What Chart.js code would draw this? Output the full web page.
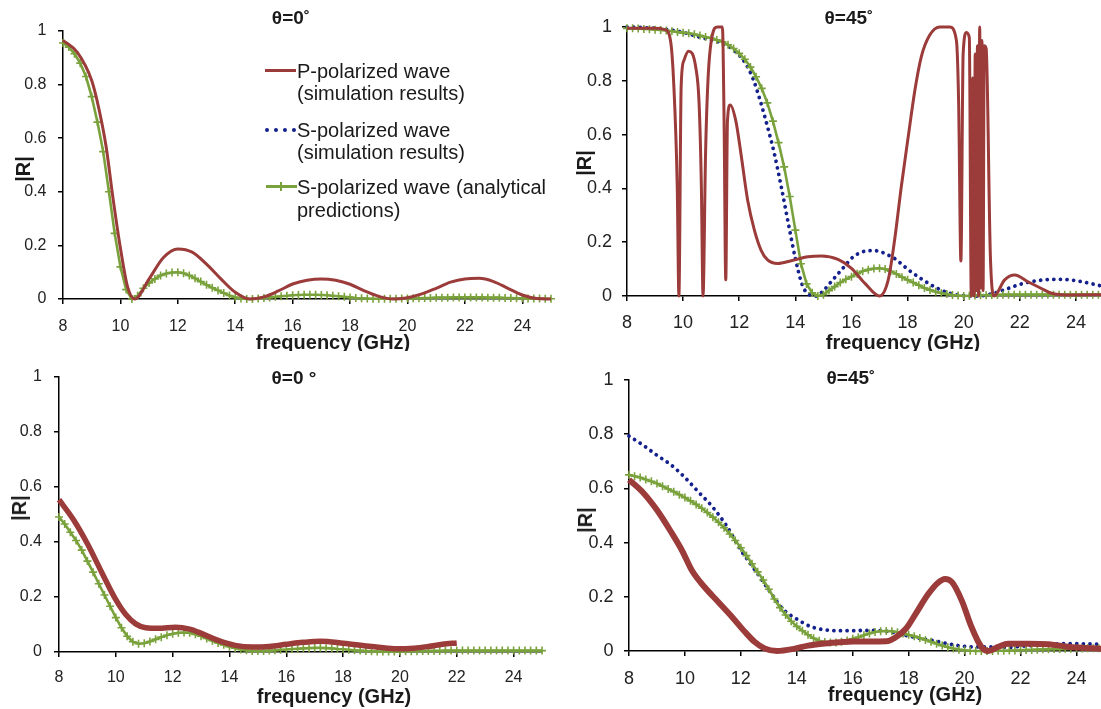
<!DOCTYPE html>
<html lang="en">
<head>
  <meta charset="UTF-8">
  <title>|R| versus frequency</title>
  <script src="https://cdn.jsdelivr.net/npm/chart.js"></script>
  <style>
    html, body {
      margin: 0;
      overflow: hidden;
    }
    body {
      width: 1101px;
      height: 709px;
      position: relative;
      background: #fff;
      font-family: "Liberation Sans", Arial, sans-serif;
      color: #1a1a1a;
    }
    .panel {
      position: absolute;
    }
    .lbl {
      position: absolute;
      white-space: nowrap;
      line-height: 1.2;
      transform: translate(-50%, -50%);
    }
    .title {
      font-weight: bold;
      font-size: 19px;
    }
    .axis-title {
      font-weight: bold;
      font-size: 20px;
    }
    .r-title {
      transform: translate(-50%, -50%) rotate(-90deg);
    }
    #topClip {
      position: absolute;
      left: 0;
      top: 0;
      width: 1101px;
      height: 351px;
      overflow: hidden;
    }
    .legend-text {
      position: absolute;
      left: 297px;
      font-size: 20px;
      line-height: 23px;
      white-space: nowrap;
      transform: translateY(-50%);
    }
    .sample {
      position: absolute;
    }
  </style>
</head>
<body>

<!-- the four plots -->
<div class="panel" style="left:0px; top:0px; width:570px; height:340px;"><canvas id="chartTL"></canvas></div>
<div class="panel" style="left:570px; top:0px; width:540px; height:340px;"><canvas id="chartTR"></canvas></div>
<div class="panel" style="left:0px; top:355px; width:570px; height:354px;"><canvas id="chartBL"></canvas></div>
<div class="panel" style="left:570px; top:355px; width:540px; height:354px;"><canvas id="chartBR"></canvas></div>

<!-- titles -->
<div class="lbl title" style="left:291px; top:18px;">θ=0˚</div>
<div class="lbl title" style="left:849px; top:18px;">θ=45˚</div>
<div class="lbl title" style="left:294px; top:378px;">θ=0 °</div>
<div class="lbl title" style="left:851px; top:378px;">θ=45˚</div>

<!-- axis titles (top row is cut by the lower plots, as in the figure) -->
<div id="topClip">
  <div class="lbl axis-title" style="left:333px; top:342px;">frequency (GHz)</div>
  <div class="lbl axis-title" style="left:903px; top:342px;">frequency (GHz)</div>
</div>
<div class="lbl axis-title" style="left:334px; top:696px;">frequency (GHz)</div>
<div class="lbl axis-title" style="left:905px; top:694px;">frequency (GHz)</div>

<div class="lbl axis-title r-title" style="left:23px; top:169px;">|R|</div>
<div class="lbl axis-title r-title" style="left:584px; top:163px;">|R|</div>
<div class="lbl axis-title r-title" style="left:19px; top:508px;">|R|</div>
<div class="lbl axis-title r-title" style="left:585px; top:520px;">|R|</div>

<!-- legend of the first plot -->
<div class="sample" style="left:265px; top:69px; width:31px; height:3px; background:#9b3b3a;"></div>
<div class="sample" style="left:265px; top:128px; width:31px; height:0; border-top:4px dotted #14208c;"></div>
<div class="sample" style="left:266px; top:185px; width:31px; height:3px; background:#7aa23c;"></div>
<div class="sample" style="left:280px; top:182px; width:2px; height:9px; background:#7aa23c;"></div>
<div class="legend-text" style="top:71px;">P-polarized wave</div>
<div class="legend-text" style="top:93px;">(simulation results)</div>
<div class="legend-text" style="top:130px;">S-polarized wave</div>
<div class="legend-text" style="top:152px;">(simulation results)</div>
<div class="legend-text" style="top:187px;">S-polarized wave (analytical</div>
<div class="legend-text" style="top:210px;">predictions)</div>

<script>
  // axes
  const xTickValues = [8, 10, 12, 14, 16, 18, 20, 22, 24];
  const yTickValues = [0, 0.2, 0.4, 0.6, 0.8, 1];
  const yTickLabels = ['0', '0.2', '0.4', '0.6', '0.8', '1'];

  // frequency samples of the analytical curves (one + marker each)
  const freqAnalytic = [
    8.0, 8.2, 8.4, 8.6, 8.8, 9.0, 9.2, 9.4, 9.6, 9.8,
    10.0, 10.2, 10.4, 10.6, 10.8, 11.0, 11.2, 11.4, 11.6, 11.8,
    12.0, 12.2, 12.4, 12.6, 12.8, 13.0, 13.2, 13.4, 13.6, 13.8,
    14.0, 14.2, 14.4, 14.6, 14.8, 15.0, 15.2, 15.4, 15.6, 15.8,
    16.0, 16.2, 16.4, 16.6, 16.8, 17.0, 17.2, 17.4, 17.6, 17.8,
    18.0, 18.2, 18.4, 18.6, 18.8, 19.0, 19.2, 19.4, 19.6, 19.8,
    20.0, 20.2, 20.4, 20.6, 20.8, 21.0, 21.2, 21.4, 21.6, 21.8,
    22.0, 22.2, 22.4, 22.6, 22.8, 23.0, 23.2, 23.4, 23.6, 23.8,
    24.0, 24.2, 24.4, 24.6, 24.8, 25.0
  ];

  // top left : theta = 0
  const tlRedFreq = [8, 8.5, 9, 9.25, 9.5, 9.75, 10, 10.25, 10.5, 11, 11.5, 12, 12.5, 13, 13.5, 14, 14.5,
    15, 15.5, 16, 16.5, 17, 17.5, 18, 18.5, 19, 19.5, 20, 20.5, 21, 21.5, 22, 22.5, 23, 23.5, 24, 24.5, 25];
  const tlRedR = [0.965, 0.92, 0.815, 0.71, 0.57, 0.37, 0.19, 0.045, 0.0, 0.075, 0.155, 0.187, 0.175, 0.13, 0.075, 0.025, 0.0,
    0.008, 0.03, 0.056, 0.07, 0.075, 0.07, 0.055, 0.03, 0.01, 0.0, 0.005, 0.019, 0.04, 0.063, 0.075, 0.077, 0.065, 0.04, 0.015, 0.002, 0.0];
  const tlGreenR = [
    0.955, 0.94, 0.915, 0.88, 0.83, 0.755, 0.66, 0.55, 0.40, 0.245,
    0.12, 0.035, 0.0, 0.012, 0.04, 0.06, 0.075, 0.088, 0.095, 0.099,
    0.1, 0.096, 0.088, 0.077, 0.065, 0.053, 0.042, 0.032, 0.022, 0.013,
    0.006, 0.002, 0.0, 0.0, 0.002, 0.004, 0.006, 0.008, 0.01, 0.012,
    0.014, 0.015, 0.016, 0.016, 0.016, 0.015, 0.014, 0.012, 0.01, 0.008,
    0.006, 0.004, 0.003, 0.002, 0.001, 0.001, 0.001, 0.001, 0.001, 0.002,
    0.002, 0.003, 0.003, 0.004, 0.004, 0.005, 0.005, 0.005, 0.006, 0.006,
    0.006, 0.006, 0.006, 0.006, 0.005, 0.005, 0.005, 0.004, 0.004, 0.003,
    0.003, 0.002, 0.002, 0.002, 0.001, 0.001
  ];

  // top right : theta = 45
  const trRedFreq = [8, 9, 9.35, 9.55, 9.67, 9.79, 9.85, 9.93, 10.03, 10.19, 10.45, 10.57, 10.65, 10.71, 10.8, 10.89,
    11.04, 11.22, 11.4, 11.46, 11.52, 11.58, 11.68, 11.88, 12.06, 12.3, 12.54, 12.78, 13.01, 13.37, 13.85, 14.45,
    14.93, 15.52, 16.0, 16.48, 17.0, 17.31, 17.54, 17.78, 18.02, 18.26, 18.49, 18.79, 19.15, 19.5, 19.74, 19.82,
    19.9, 19.98, 20.1, 20.2, 20.27, 20.32, 20.37, 20.41, 20.45, 20.49, 20.53, 20.57, 20.61, 20.65, 20.69, 20.73,
    20.8, 20.95, 21.08, 21.46, 21.82, 22.29, 22.77, 23.13, 23.7, 25];
  const trRedR = [0.995, 0.995, 0.99, 0.95, 0.78, 0.41, 0.0, 0.78, 0.876, 0.91, 0.85, 0.715, 0.41, 0.0, 0.53, 0.81,
    0.97, 1.0, 1.0, 0.65, 0.06, 0.65, 0.71, 0.65, 0.53, 0.356, 0.245, 0.17, 0.134, 0.121, 0.131, 0.146,
    0.149, 0.136, 0.103, 0.047, 0.0, 0.06, 0.21, 0.41, 0.59, 0.765, 0.89, 0.97, 1.0, 1.0, 0.95, 0.715,
    0.13, 0.9, 0.98, 0.96, 0.0, 0.81, 0.0, 0.9, 0.02, 0.93, 0.0, 1.0, 0.03, 0.95, 0.02, 0.93,
    0.92, 0.15, 0.0, 0.06, 0.078, 0.053, 0.028, 0.01, 0.004, 0.005];
  const trBlueFreq = [8, 8.5, 9, 9.5, 10, 10.5, 11, 11.5, 12, 12.25, 12.5, 12.75, 13, 13.25, 13.5, 13.75, 14,
    14.25, 14.5, 14.75, 15, 15.25, 15.5, 15.75, 16, 16.25, 16.5, 16.75, 17, 17.25, 17.5, 17.75, 18,
    18.5, 19, 19.5, 20, 20.5, 21, 21.5, 22, 22.5, 23, 23.5, 24, 24.5, 25];
  const trBlueR = [1.0, 0.998, 0.995, 0.99, 0.98, 0.965, 0.952, 0.935, 0.895, 0.86, 0.805, 0.725, 0.632, 0.53, 0.405, 0.27, 0.14,
    0.04, 0.005, 0.0, 0.02, 0.05, 0.08, 0.11, 0.14, 0.158, 0.167, 0.169, 0.166, 0.155, 0.142, 0.122, 0.1,
    0.063, 0.032, 0.01, 0.001, 0.0, 0.008, 0.025, 0.043, 0.055, 0.061, 0.062, 0.057, 0.047, 0.035];
  const trGreenR = [
    0.995, 0.995, 0.994, 0.993, 0.992, 0.99, 0.989, 0.987, 0.984, 0.981,
    0.979, 0.977, 0.973, 0.968, 0.963, 0.958, 0.952, 0.945, 0.934, 0.92,
    0.902, 0.88, 0.851, 0.815, 0.772, 0.718, 0.65, 0.57, 0.48, 0.37,
    0.245, 0.12, 0.045, 0.012, 0.0, 0.005, 0.02, 0.035, 0.05, 0.062,
    0.072, 0.083, 0.092, 0.098, 0.102, 0.103, 0.1, 0.092, 0.082, 0.07,
    0.06, 0.05, 0.04, 0.03, 0.022, 0.016, 0.01, 0.007, 0.004, 0.002,
    0.0, 0.001, 0.002, 0.003, 0.003, 0.004, 0.004, 0.005, 0.005, 0.005,
    0.005, 0.005, 0.005, 0.005, 0.005, 0.005, 0.005, 0.005, 0.005, 0.005,
    0.005, 0.005, 0.005, 0.005, 0.005, 0.005
  ];

  // bottom left : theta = 0
  const blRedFreq = [8, 8.5, 9, 9.5, 10, 10.35, 10.7, 11.05, 11.5, 12.1, 12.6, 13.05, 13.6, 14.2, 14.8, 15.4,
    16, 16.6, 17.2, 18, 19, 19.8, 20.5, 21, 21.5, 22];
  const blRedR = [0.553, 0.482, 0.393, 0.29, 0.19, 0.136, 0.102, 0.088, 0.086, 0.09, 0.083, 0.066, 0.042, 0.024, 0.018, 0.02,
    0.028, 0.035, 0.039, 0.032, 0.02, 0.012, 0.014, 0.02, 0.028, 0.033];
  const blGreenR = [
    0.49, 0.465, 0.435, 0.405, 0.37, 0.33, 0.29, 0.248, 0.207, 0.166,
    0.125, 0.088, 0.057, 0.037, 0.03, 0.032, 0.038, 0.046, 0.054, 0.061,
    0.066, 0.07, 0.071, 0.07, 0.064, 0.057, 0.049, 0.041, 0.033, 0.026,
    0.019, 0.014, 0.009, 0.006, 0.004, 0.004, 0.004, 0.005, 0.006, 0.008,
    0.009, 0.011, 0.012, 0.013, 0.014, 0.015, 0.015, 0.014, 0.013, 0.011,
    0.01, 0.008, 0.006, 0.005, 0.004, 0.003, 0.002, 0.002, 0.002, 0.002,
    0.002, 0.003, 0.003, 0.003, 0.004, 0.004, 0.004, 0.004, 0.005, 0.005,
    0.005, 0.005, 0.005, 0.005, 0.005, 0.005, 0.005, 0.005, 0.005, 0.005,
    0.005, 0.005, 0.005, 0.005, 0.005, 0.005
  ];

  // bottom right : theta = 45
  const brRedFreq = [8, 8.5, 9, 9.5, 9.9, 10.25, 10.7, 11.2, 11.7, 12.15, 12.5, 12.85, 13.3, 13.9, 14.4, 14.9,
    15.5, 16, 16.6, 17.2, 17.5, 17.9, 18.25, 18.7, 19.05, 19.3, 19.55, 19.9, 20.25, 20.6, 20.85, 21.2,
    21.55, 22.3, 23, 23.6, 24.2, 25];
  const brRedR = [0.632, 0.585, 0.52, 0.44, 0.37, 0.297, 0.236, 0.18, 0.124, 0.07, 0.033, 0.009, 0.0, 0.008, 0.02, 0.027,
    0.032, 0.035, 0.035, 0.036, 0.048, 0.082, 0.137, 0.21, 0.252, 0.266, 0.254, 0.186, 0.088, 0.015, 0.0, 0.015,
    0.027, 0.027, 0.025, 0.017, 0.012, 0.008];
  const brBlueFreq = [8, 8.5, 9, 9.5, 10, 10.5, 11, 11.5, 12, 12.5, 13, 13.5, 14, 14.5, 15, 15.5, 16, 16.5,
    17, 17.5, 18, 18.5, 19, 19.5, 20, 20.5, 21, 21.5, 22, 22.5, 23, 23.5, 24, 24.5, 25];
  const brBlueR = [0.793, 0.76, 0.722, 0.687, 0.64, 0.585, 0.53, 0.46, 0.372, 0.3, 0.225, 0.155, 0.118, 0.09, 0.078, 0.075, 0.075, 0.076,
    0.075, 0.068, 0.055, 0.045, 0.036, 0.025, 0.017, 0.015, 0.015, 0.013, 0.017, 0.021, 0.025, 0.027, 0.027, 0.026, 0.025];
  const brGreenR = [
    0.65, 0.645, 0.64, 0.633, 0.626, 0.618, 0.608, 0.598, 0.588, 0.577,
    0.566, 0.554, 0.541, 0.527, 0.511, 0.494, 0.475, 0.455, 0.432, 0.408,
    0.381, 0.352, 0.322, 0.292, 0.262, 0.228, 0.192, 0.16, 0.133, 0.11,
    0.091, 0.075, 0.06, 0.047, 0.038, 0.033, 0.031, 0.031, 0.034, 0.039,
    0.045, 0.051, 0.058, 0.065, 0.07, 0.073, 0.074, 0.073, 0.069, 0.065,
    0.06, 0.054, 0.048, 0.041, 0.034, 0.027, 0.02, 0.014, 0.009, 0.005,
    0.003, 0.001, 0.0, 0.0, 0.0, 0.0, 0.001, 0.001, 0.002, 0.002,
    0.003, 0.004, 0.004, 0.005, 0.006, 0.006, 0.007, 0.007, 0.008, 0.008,
    0.009, 0.009, 0.01, 0.01, 0.01, 0.01
  ];

  const RED = '#9b3b3a';
  const BLUE = '#14208c';
  const GREEN = '#7aa23c';
  const FONT = '"Liberation Sans", Arial, sans-serif';

  function pairs(xs, ys) {
    return xs.map((x, i) => ({ x: x, y: ys[i] }));
  }

  function redSet(xs, ys, width) {
    return {
      data: pairs(xs, ys),
      borderColor: RED,
      borderWidth: width,
      pointRadius: 0,
      cubicInterpolationMode: 'monotone',
      borderJoinStyle: 'round',
      clip: false
    };
  }

  function blueSet(xs, ys) {
    return {
      data: pairs(xs, ys),
      borderColor: BLUE,
      borderWidth: 3.8,
      borderDash: [0.01, 6.6],
      borderCapStyle: 'round',
      pointRadius: 0,
      cubicInterpolationMode: 'monotone',
      clip: false
    };
  }

  function greenSet(ys) {
    return {
      data: pairs(freqAnalytic, ys),
      borderColor: GREEN,
      borderWidth: 2.6,
      pointStyle: 'cross',
      pointRadius: 4,
      pointBorderWidth: 1.6,
      pointBorderColor: GREEN,
      pointBackgroundColor: GREEN,
      clip: false
    };
  }

  // box : size of the axis areas and paddings, so that the plot area lands where it is in the figure
  function buildPanel(id, datasets, box) {
    const axisGrid = { display: true, drawOnChartArea: false, drawTicks: true, tickLength: 5, color: '#000', lineWidth: 1.5 };
    const axisBorder = { display: true, color: '#000', width: 1.5 };
    return new Chart(document.getElementById(id), {
      type: 'line',
      data: { datasets: datasets },
      options: {
        responsive: true,
        maintainAspectRatio: false,
        animation: false,
        events: [],
        devicePixelRatio: 1,
        layout: { padding: { top: box.padTop, right: box.padRight, left: 0, bottom: 0 } },
        plugins: { legend: { display: false }, tooltip: { enabled: false } },
        scales: {
          x: {
            type: 'linear',
            min: 8,
            max: 25,
            afterBuildTicks: s => { s.ticks = xTickValues.map(v => ({ value: v })); },
            afterFit: s => { s.height = box.xHeight; },
            ticks: { color: '#222', padding: box.xPad, maxRotation: 0, autoSkip: false, font: { family: FONT, size: box.font } },
            grid: axisGrid,
            border: axisBorder
          },
          y: {
            min: 0,
            max: 1,
            afterBuildTicks: s => { s.ticks = yTickValues.map(v => ({ value: v })); },
            afterFit: s => { s.width = box.yWidth; },
            ticks: {
              color: '#222',
              padding: box.yPad,
              font: { family: FONT, size: box.font },
              callback: (value, index) => yTickLabels[index]
            },
            grid: axisGrid,
            border: axisBorder
          }
        }
      }
    });
  }

  buildPanel('chartTL', [redSet(tlRedFreq, tlRedR, 3), greenSet(tlGreenR)],
    { yWidth: 63, xHeight: 41, padTop: 31, padRight: 19, font: 16, xPad: 13, yPad: 11.5 });

  buildPanel('chartTR', [redSet(trRedFreq, trRedR, 3), greenSet(trGreenR), blueSet(trBlueFreq, trBlueR)],
    { yWidth: 57, xHeight: 44, padTop: 27, padRight: 6, font: 18, xPad: 11, yPad: 10 });

  buildPanel('chartBL', [redSet(blRedFreq, blRedR, 5.5), greenSet(blGreenR)],
    { yWidth: 59, xHeight: 57, padTop: 21, padRight: 28, font: 16, xPad: 11, yPad: 12 });

  buildPanel('chartBR', [redSet(brRedFreq, brRedR, 6), greenSet(brGreenR), blueSet(brBlueFreq, brBlueR)],
    { yWidth: 59, xHeight: 58, padTop: 25, padRight: 5, font: 18, xPad: 12, yPad: 10.5 });
</script>
</body>
</html>
